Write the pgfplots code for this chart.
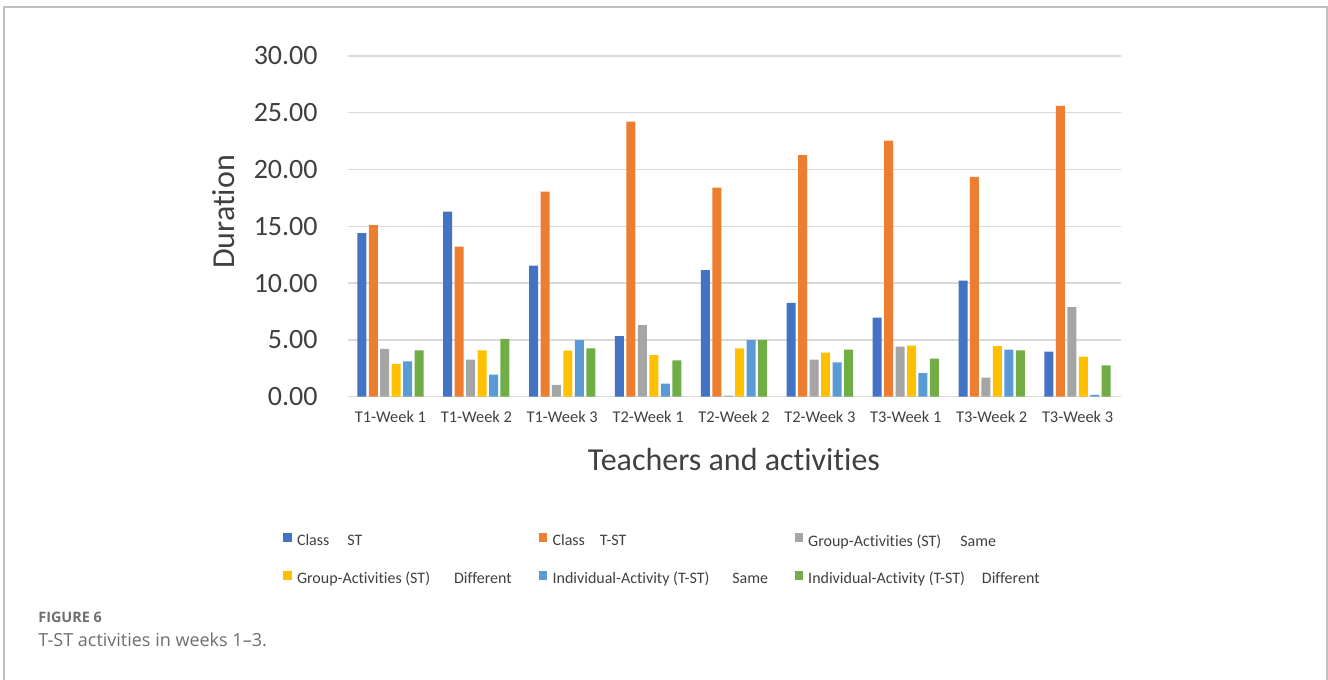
\documentclass[border=0pt]{standalone}
\usepackage{pgfplots}
\pgfplotsset{compat=1.18}
\usepackage{pgfplotstable}
\usepackage{fontspec}
\setmainfont{Carlito}[Ligatures={NoCommon,NoContextual},Contextuals=NoAlternate]
\newfontfamily\capfont{Open Sans}
\definecolor{cA}{HTML}{4472C4}
\definecolor{cB}{HTML}{ED7D31}
\definecolor{cC}{HTML}{A5A5A5}
\definecolor{cD}{HTML}{FFC000}
\definecolor{cE}{HTML}{5B9BD5}
\definecolor{cF}{HTML}{70AD47}
\definecolor{txt}{HTML}{404040}
\definecolor{gridc}{HTML}{D9D9D9}
\definecolor{framec}{HTML}{BFBFBF}
\definecolor{capc}{HTML}{6E6E6E}

\pgfplotstableread{
x a b c d e f
0 14.41 15.11 4.20 2.90 3.11 4.08
1 16.29 13.20 3.26 4.08 1.94 5.08
2 11.53 18.05 1.03 4.05 4.99 4.25
3 5.34 24.21 6.31 3.67 1.14 3.20
4 11.15 18.40 0.10 4.25 4.99 4.99
5 8.27 21.27 3.26 3.87 3.02 4.14
6 6.95 22.54 4.40 4.49 2.08 3.35
7 10.21 19.34 1.67 4.46 4.14 4.08
8 3.96 25.59 7.89 3.52 0.15 2.76
}\datatable

\begin{document}
\begin{tikzpicture}
\path[use as bounding box] (0,0) rectangle (664pt,340pt);
\draw[framec, line width=0.8pt] (2pt,0) -- (2pt,336.5pt) -- (663.5pt,336.5pt) -- (663.5pt,0);
\begin{axis}[
  at={(173.75pt,141.65pt)}, anchor=south west,
  scale only axis, width=386.5pt, height=170.4pt,
  ymin=0, ymax=30, xmin=-0.5, xmax=8.5,
  ybar=1.23pt, bar width=4.5pt,
  xtick={0,...,8},
  xticklabels={T1-Week 1,T1-Week 2,T1-Week 3,T2-Week 1,T2-Week 2,T2-Week 3,T3-Week 1,T3-Week 2,T3-Week 3},
  ytick={0,5,...,30},
  yticklabel={\pgfmathprintnumber[fixed,fixed zerofill,precision=2,assume math mode=true]{\tick}},
  ymajorgrids,
  major grid style={draw=gridc, line width=0.7pt},
  axis line style={draw=none},
  major tick length=0pt,
  tick label style={color=txt},
  yticklabel style={font=\fontsize{14}{16}\selectfont, anchor=east, inner sep=0pt, xshift=-14.75pt},
  xticklabel style={font=\fontsize{8.2}{10}\selectfont, anchor=base, inner sep=0pt, yshift=-13.15pt},
  ylabel={Duration},
  xlabel={Teachers and activities},
  label style={color=txt, font=\fontsize{16}{19}\selectfont},
  ylabel style={at={(axis description cs:-0.1598,0.542)}, anchor=center},
  xlabel style={at={(axis description cs:0.5,-0.183)}, anchor=center},
  legend columns=3,
  legend cell align=left,
  legend image code/.code={\fill[#1] (0pt,0pt) rectangle (4.2pt,4.2pt);},
  legend style={at={(axis description cs:-0.0834,-0.40)}, anchor=north west,
    draw=none, fill=none, inner sep=0pt, row sep=11pt,
    font=\fontsize{8}{9.6}\selectfont, text=txt,
    nodes={inner sep=0pt},
    /tikz/every odd column/.append style={column sep=2.6pt},
    /tikz/every even column/.append style={column sep=0pt}},
]
\addplot[fill=cA, draw=none] table[x=x, y=a] {\datatable};
\addlegendentry{\makebox[121pt][l]{Class\hspace{9pt}ST}}
\addplot[fill=cB, draw=none] table[x=x, y=b] {\datatable};
\addlegendentry{\makebox[121pt][l]{Class\hspace{7.5pt}T-ST}}
\addplot[fill=cC, draw=none] table[x=x, y=c] {\datatable};
\addlegendentry{\makebox[121pt][l]{Group-Activities (ST)\hspace{9.5pt}Same}}
\addplot[fill=cD, draw=none] table[x=x, y=d] {\datatable};
\addlegendentry{\makebox[121pt][l]{Group-Activities (ST)\hspace{12pt}Different}}
\addplot[fill=cE, draw=none] table[x=x, y=e] {\datatable};
\addlegendentry{\makebox[121pt][l]{Individual-Activity (T-ST)\hspace{11.5pt}Same}}
\addplot[fill=cF, draw=none] table[x=x, y=f] {\datatable};
\addlegendentry{\makebox[121pt][l]{Individual-Activity (T-ST)\hspace{8.5pt}Different}}
\end{axis}
\node[anchor=west, inner sep=0pt, font=\capfont\bfseries\fontsize{7.2}{8.6}\selectfont, text=capc] at (19pt,31.5pt) {FIGURE 6};
\node[anchor=west, inner sep=0pt, font=\capfont\fontsize{9}{11}\selectfont, text=capc] at (19pt,20pt) {T-ST activities in weeks 1–3.};
\end{tikzpicture}
\end{document}
